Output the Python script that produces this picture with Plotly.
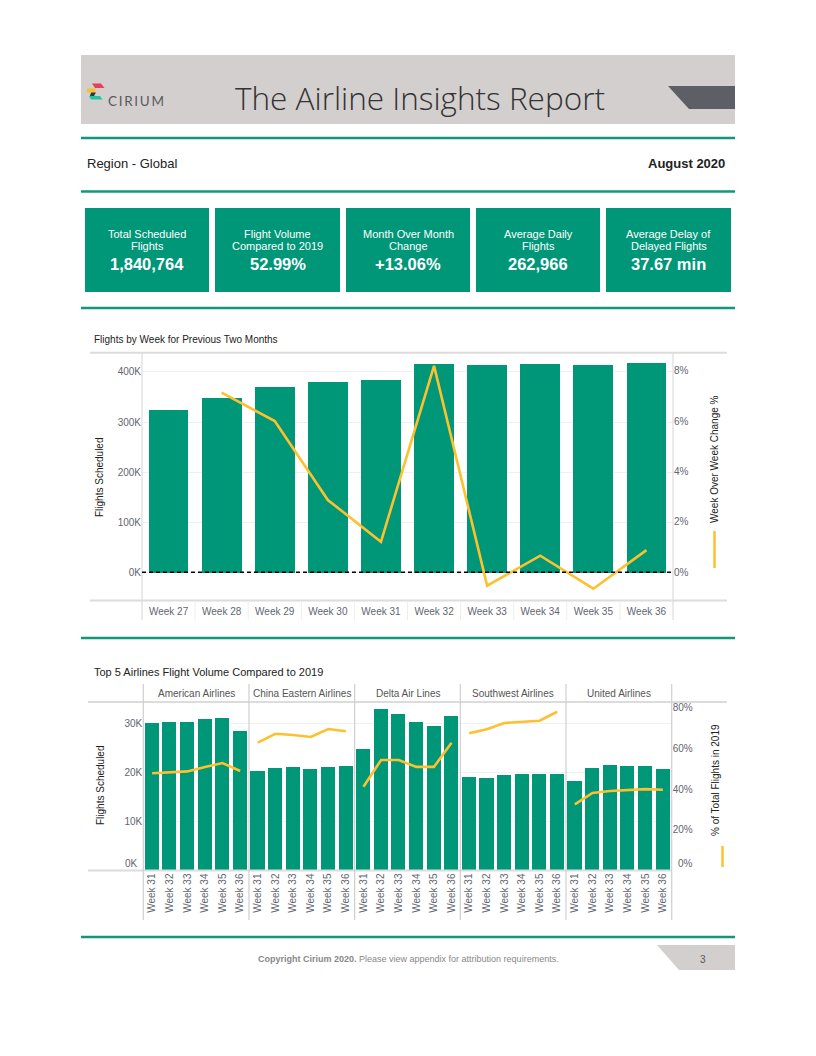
import plotly.graph_objects as go

# ---------------- data ----------------
weeks1 = ["Week 27", "Week 28", "Week 29", "Week 30", "Week 31",
          "Week 32", "Week 33", "Week 34", "Week 35", "Week 36"]
flights1 = [324000, 348000, 370000, 380000, 384000, 416000, 414000, 416000, 414000, 418000]
wow_change = [None, 7.13, 6.0, 2.87, 1.21, 8.19, -0.53, 0.66, -0.65, 0.88]
y1_ticks = [0, 100000, 200000, 300000, 400000]
y1_ticktext = ["0K", "100K", "200K", "300K", "400K"]
y2_ticks = [0, 2, 4, 6, 8]
y2_ticktext = ["0%", "2%", "4%", "6%", "8%"]

weeks2 = ["Week 31", "Week 32", "Week 33", "Week 34", "Week 35", "Week 36"]
airlines = ["American Airlines", "China Eastern Airlines", "Delta Air Lines",
            "Southwest Airlines", "United Airlines"]
aa_flights = [30100, 30400, 30400, 31000, 31200, 28400]
ce_flights = [20400, 21000, 21200, 20800, 21200, 21400]
dl_flights = [24900, 32900, 32000, 30300, 29400, 31600]
wn_flights = [19000, 18800, 19400, 19600, 19600, 19600]
ua_flights = [18200, 21000, 21600, 21400, 21400, 20800]
aa_pct = [47.8, 48.4, 48.7, 50.9, 52.8, 48.9]
ce_pct = [62.8, 67.2, 66.6, 65.6, 69.5, 68.4]
dl_pct = [41.2, 54.3, 54.3, 50.9, 50.9, 62.8]
wn_pct = [67.4, 69.4, 72.5, 73.1, 73.6, 78.0]
ua_pct = [32.5, 38.1, 39.1, 39.4, 40.0, 39.7]
y3_ticks = [10000, 20000, 30000]
y3_ticktext = ["10K", "20K", "30K"]
y4_ticks = [20, 40, 60, 80]
y4_ticktext = ["20%", "40%", "60%", "80%"]

kpi_labels = [("Total Scheduled", "Flights"), ("Flight Volume", "Compared to 2019"),
              ("Month Over Month", "Change"), ("Average Daily", "Flights"),
              ("Average Delay of", "Delayed Flights")]
kpi_values = ["1,840,764", "52.99%", "+13.06%", "262,966", "37.67 min"]

# ---------------- style ----------------
W, H = 816, 1056
FONT = "Liberation Sans, Arial, sans-serif"
TEAL = "#009678"
LINE_TEAL = "#12977b"
YELLOW = "#FDC02F"
TICK = "#5f6670"
DARK = "#222222"
BORDER = "#dcdcdc"


def X(px):
    return px / W


def Y(py):
    return 1 - py / H


fig = go.Figure()

# chart 1
x1 = list(range(len(weeks1)))
fig.add_trace(go.Bar(x=x1, y=flights1, marker=dict(color=TEAL, line=dict(width=0)),
                     width=0.75, xaxis="x", yaxis="y", showlegend=False, hoverinfo="skip"))
fig.add_trace(go.Scatter(x=x1, y=wow_change, mode="lines", line=dict(color=YELLOW, width=2.6),
                         xaxis="x", yaxis="y2", showlegend=False, hoverinfo="skip"))

# chart 2
n = len(weeks2)
flights_all = [aa_flights, ce_flights, dl_flights, wn_flights, ua_flights]
pct_all = [aa_pct, ce_pct, dl_pct, wn_pct, ua_pct]
for i, fl in enumerate(flights_all):
    xs = [i * n + j for j in range(n)]
    fig.add_trace(go.Bar(x=xs, y=fl, marker=dict(color=TEAL, line=dict(width=0)), width=0.8,
                         xaxis="x2", yaxis="y3", showlegend=False, hoverinfo="skip"))
for i, pc in enumerate(pct_all):
    xs = [i * n + j for j in range(n)]
    fig.add_trace(go.Scatter(x=xs, y=pc, mode="lines", line=dict(color=YELLOW, width=2.6),
                             xaxis="x2", yaxis="y4", showlegend=False, hoverinfo="skip"))

tickfont = dict(family=FONT, size=10, color=TICK)

fig.update_layout(
    width=W, height=H, margin=dict(l=0, r=0, t=0, b=0), autosize=False,
    paper_bgcolor="white", plot_bgcolor="white", showlegend=False, bargap=0,
    xaxis=dict(domain=[X(142), X(673)], range=[-0.5, len(weeks1) - 0.5], anchor="y",
               tickvals=x1, ticktext=weeks1, tickfont=tickfont, showgrid=False,
               zeroline=False, showline=False, ticks="", ticklabelstandoff=4),
    yaxis=dict(domain=[Y(600), Y(352.7)], range=[-55300, 438500], anchor="x",
               tickvals=y1_ticks, ticktext=y1_ticktext, tickfont=tickfont,
               showgrid=True, gridcolor="#efefef", gridwidth=1, zeroline=False, showline=False),
    yaxis2=dict(overlaying="y", side="right", anchor="x", range=[-1.099, 8.714],
                tickvals=y2_ticks, ticktext=y2_ticktext, tickfont=tickfont,
                showgrid=False, zeroline=False, showline=False),
    xaxis2=dict(domain=[X(143.3), X(671.7)], range=[-0.5, n * len(airlines) - 0.5], anchor="y3",
                tickvals=list(range(n * len(airlines))), ticktext=weeks2 * len(airlines),
                tickangle=-90, tickfont=tickfont, showgrid=False, zeroline=False,
                showline=False, ticks=""),
    yaxis3=dict(domain=[Y(870.5), Y(702)], range=[0, 34400], anchor="x2",
                tickvals=y3_ticks, ticktext=y3_ticktext, tickfont=tickfont,
                showgrid=True, gridcolor="#f0f0f0", zeroline=False, showline=False),
    yaxis4=dict(overlaying="y3", side="right", anchor="x2", range=[0, 82.8],
                tickvals=y4_ticks, ticktext=y4_ticktext, tickfont=tickfont,
                showgrid=False, zeroline=False, showline=False),
)

shapes = []


def pline(x0, y0, x1_, y1_, color, width, dash=None, layer="above"):
    d = dict(type="line", xref="paper", yref="paper", x0=X(x0), x1=X(x1_), y0=Y(y0), y1=Y(y1_),
             line=dict(color=color, width=width), layer=layer)
    if dash:
        d["line"]["dash"] = dash
    shapes.append(d)


def prect(x0, y0, x1_, y1_, color, layer="below"):
    shapes.append(dict(type="rect", xref="paper", yref="paper", x0=X(x0), x1=X(x1_),
                       y0=Y(y0), y1=Y(y1_), fillcolor=color, line=dict(width=0), layer=layer))


def ppath(pts, color):
    p = "M " + " L ".join(f"{X(a):.5f},{Y(b):.5f}" for a, b in pts) + " Z"
    shapes.append(dict(type="path", xref="paper", yref="paper", path=p, fillcolor=color,
                       line=dict(width=0), layer="above"))


# header band
prect(81, 55, 735, 124, "#d3cfcf")
ppath([(668, 86), (735, 86), (735, 109), (689, 109)], "#5e5f66")
# logo
ppath([(92, 83.5), (101, 83.5), (104.5, 88), (95, 88)], "#e8405a")
ppath([(87, 88.5), (96, 88.5), (94.5, 92.5), (87, 92.5)], "#f7c325")
ppath([(91, 92.5), (96, 92.5), (94, 96), (90, 96)], "#2d3b35")
ppath([(89, 96), (100, 96), (102.5, 99.5), (91, 99.5)], "#21c3a0")

# teal separators
for yy in [138, 191.5, 308, 638, 937]:
    pline(81, yy, 735, yy, LINE_TEAL, 2.5)

# footer page tab
ppath([(657, 945), (735, 945), (735, 970), (679, 970)], "#d3cfcf")

# KPI boxes
box_x = [(85, 209), (215, 340), (346, 470), (476, 600), (606, 731)]
for (a, b) in box_x:
    prect(a, 208, b, 292, TEAL, layer="above")

# chart 1 frame
pline(90, 352.7, 727, 352.7, BORDER, 2)
pline(90, 600.5, 727, 600.5, BORDER, 2)
pline(142, 352.7, 142, 620, BORDER, 1.2)
pline(673, 352.7, 673, 620, BORDER, 1.2)
for k in range(len(weeks1) - 1):
    shapes.append(dict(type="line", xref="x", yref="paper", x0=k + 0.5, x1=k + 0.5,
                       y0=Y(601), y1=Y(620), line=dict(color="#eeeeee", width=1)))
# dashed zero line
shapes.append(dict(type="line", xref="x domain", yref="y", x0=0, x1=1, y0=0, y1=0,
                   line=dict(color="black", width=1.5, dash="4px,3px"), layer="above"))
# legend mark chart 1
pline(714.5, 531, 714.5, 568, YELLOW, 2.5)

# chart 2 frame
pline(88, 702, 727, 702, BORDER, 2)
pline(88, 870.5, 672, 870.5, BORDER, 2)
pline(143.3, 684, 143.3, 920, "#cfcfcf", 1.2)
pline(671.7, 684, 671.7, 920, "#cfcfcf", 1.2)
for i in range(1, len(airlines)):
    shapes.append(dict(type="line", xref="x2", yref="paper", x0=i * n - 0.5, x1=i * n - 0.5,
                       y0=Y(920), y1=Y(684), line=dict(color="#cfcfcf", width=1.2), layer="above"))
pline(722.5, 846, 722.5, 867, YELLOW, 2.5)

fig.update_layout(shapes=shapes)

ann = []


def txt(text, x, y, size, color=DARK, xanchor="left", yanchor="middle", family=FONT,
        angle=0, xref="paper", yref="paper", weight=None, yshift=0):
    f = dict(family=family, size=size, color=color)
    if weight:
        f["weight"] = weight
    ann.append(dict(text=text, x=x if xref != "paper" else X(x),
                    y=y if yref != "paper" else Y(y), xref=xref, yref=yref,
                    xanchor=xanchor, yanchor=yanchor, showarrow=False, font=f, textangle=angle,
                    yshift=yshift))


# header texts
txt("C\u2009I\u2009R\u2009I\u2009U\u2009M", 106, 101, 13.5, "#5a5a5a", family="Lato, sans-serif")
txt("The Airline Insights Report", 420.5, 97.5, 31.5, "#333333", xanchor="center",
    family="Open Sans, sans-serif", weight=300)
txt("Region - Global", 85, 164, 13, DARK)
txt("<b>August 2020</b>", 727, 164, 13, DARK, xanchor="right")

# KPI texts
for (a, b), (l1, l2), v in zip(box_x, kpi_labels, kpi_values):
    cx = (a + b) / 2
    txt(l1, cx, 234, 11, "white", xanchor="center")
    txt(l2, cx, 246.5, 11, "white", xanchor="center")
    txt(f"<b>{v}</b>", cx, 263.5, 16.5, "white", xanchor="center")

# chart 1 texts
txt("Flights by Week for Previous Two Months", 92, 339.5, 10, DARK)
txt("Flights Scheduled", 100, 477, 10, DARK, xanchor="center", angle=-90)
txt("Week Over Week Change %", 715, 459, 10, DARK, xanchor="center", angle=-90)

# chart 2 texts
txt("Top 5 Airlines Flight Volume Compared to 2019", 92, 671.5, 11, DARK)
txt("Flights Scheduled", 100, 785, 10, DARK, xanchor="center", angle=-90)
txt("% of Total Flights in 2019", 715, 780, 10, DARK, xanchor="center", angle=-90)
for i, name in enumerate(airlines):
    txt(name, i * n + (n - 1) / 2, 693, 10, "#555555", xanchor="center", xref="x2")
# zero labels of chart 2 sit just above the baseline
txt("0K", 139.5, 0, 10, TICK, xanchor="right", yanchor="bottom", yref="y3")
txt("0%", 676, 0, 10, TICK, xanchor="left", yanchor="bottom", yref="y4")

# footer
txt("<b>Copyright Cirium 2020.</b> Please view appendix for attribution requirements.",
    408, 959, 9, "#888888", xanchor="center")
txt("3", 703, 959.5, 10, "#555555", xanchor="center")

fig.update_layout(annotations=ann)

fig.write_html("out.html", config={"displayModeBar": False},
               post_script="document.body.style.margin='0';document.body.style.overflow='hidden';")
